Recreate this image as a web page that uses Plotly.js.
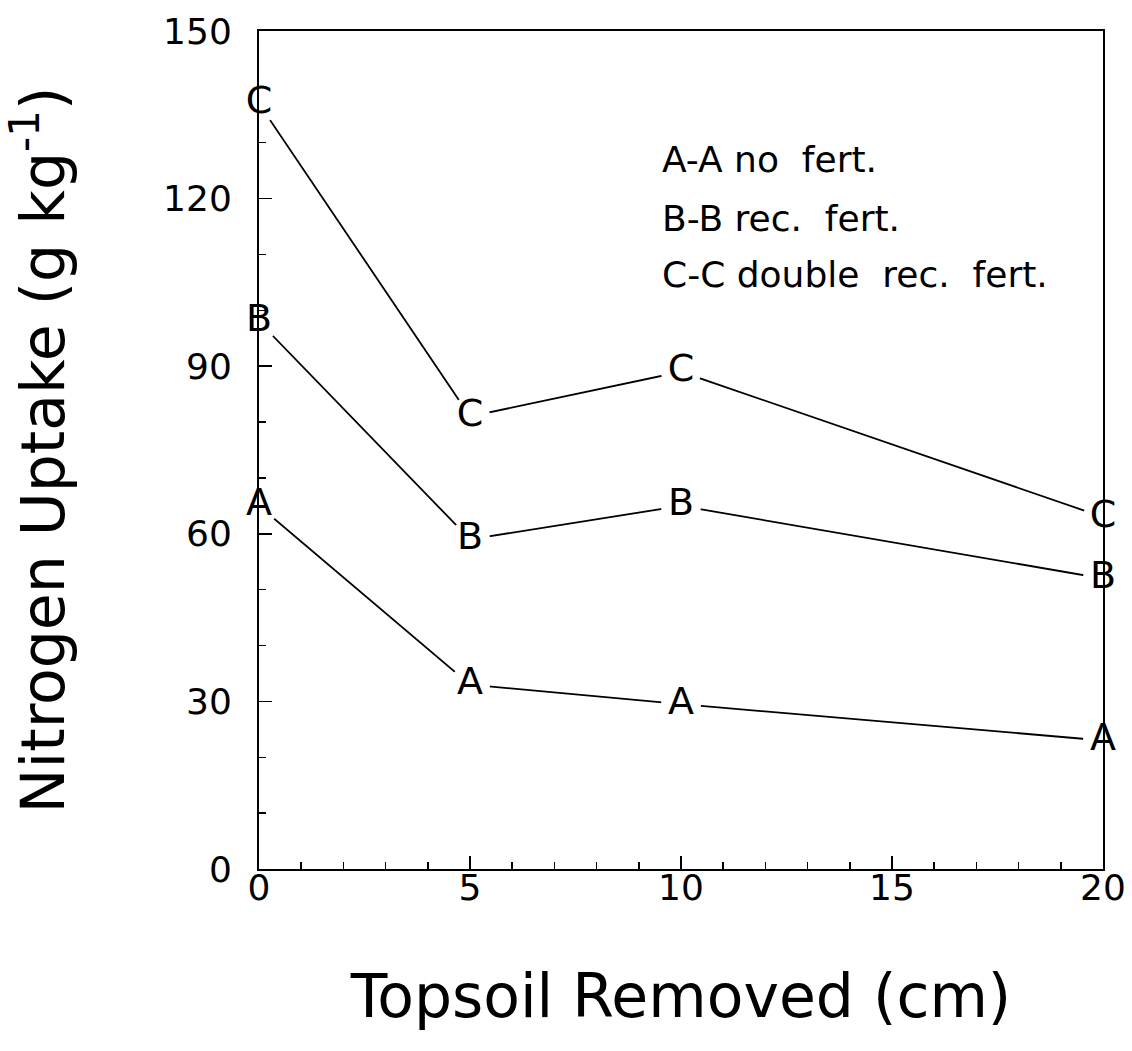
<!DOCTYPE html>
<html>
<head>
<meta charset="utf-8">
<script src="https://cdn.plot.ly/plotly-3.0.1.min.js"></script>
<style>html,body{margin:0;padding:0;background:#fff;}#chart{width:1132px;height:1051px;}</style>
</head>
<body>
<div id="chart"></div>
<script>
// Data
const topsoilRemoved = [0, 5, 10, 20];
const noFert = [65, 33, 29.5, 23];
const recFert = [98, 59, 65, 52];
const doubleRecFert = [137, 81, 89, 63];
const seriesLetters = ['A', 'B', 'C'];
const legendLines = ['A-A no  fert.', 'B-B rec.  fert.', 'C-C double  rec.  fert.'];
const legendY = [127, 116.5, 106.5];
const xTickVals = [0, 5, 10, 15, 20];
const yTickVals = [0, 30, 60, 90, 120, 150];

const FONT = '"DejaVu Sans", "Liberation Sans", sans-serif';
const seriesValues = [noFert, recFert, doubleRecFert];

const traces = seriesValues.map((vals, i) => ({
  x: topsoilRemoved,
  y: vals,
  type: 'scatter',
  mode: 'lines+markers+text',
  text: vals.map(() => seriesLetters[i]),
  textposition: 'middle center',
  textfont: {family: FONT, size: 38, color: '#000'},
  line: {color: '#000', width: 1.8},
  marker: {symbol: 'circle', size: 40, color: '#fff', line: {width: 0}},
  cliponaxis: false,
  showlegend: false,
  hoverinfo: 'x+y'
}));

const annotations = legendLines.map((t, i) => ({
  x: 9.5, y: legendY[i], xref: 'x', yref: 'y',
  text: t.replace(/  /g, ' &nbsp;'), showarrow: false, xanchor: 'left', yanchor: 'middle',
  font: {family: FONT, size: 36, color: '#000'}
}));

const layout = {
  width: 1132, height: 1051,
  margin: {l: 259, r: 29, t: 31, b: 182, pad: 0},
  paper_bgcolor: '#fff', plot_bgcolor: '#fff',
  showlegend: false,
  font: {family: FONT, color: '#000'},
  xaxis: {
    range: [0, 20], tickvals: xTickVals, ticktext: xTickVals.map(String),
    ticks: 'inside', ticklen: 13, tickwidth: 1.5, tickcolor: '#000',
    minor: {dtick: 1, ticks: 'inside', ticklen: 7, tickwidth: 1.5, tickcolor: '#000', showgrid: false},
    showline: true, linecolor: '#000', linewidth: 2, mirror: true,
    showgrid: false, zeroline: false,
    tickfont: {family: FONT, size: 36, color: '#000'},
    ticklabelstandoff: -14,
    title: {text: 'Topsoil Removed (cm)', font: {family: FONT, size: 60, color: '#000'}, standoff: 68}
  },
  yaxis: {
    range: [0, 150], tickvals: yTickVals, ticktext: yTickVals.map(String),
    ticks: 'inside', ticklen: 13, tickwidth: 1.5, tickcolor: '#000',
    minor: {dtick: 10, ticks: 'inside', ticklen: 7, tickwidth: 1.5, tickcolor: '#000', showgrid: false},
    showline: true, linecolor: '#000', linewidth: 2, mirror: true,
    showgrid: false, zeroline: false,
    tickfont: {family: FONT, size: 36, color: '#000'},
    ticklabelstandoff: 18,
    title: {text: 'Nitrogen Uptake (g kg<sup>-1</sup>)', font: {family: FONT, size: 60, color: '#000'}, standoff: 80}
  },
  annotations: annotations
};

Plotly.newPlot('chart', traces, layout, {displayModeBar: false, staticPlot: true});
</script>
</body>
</html>
